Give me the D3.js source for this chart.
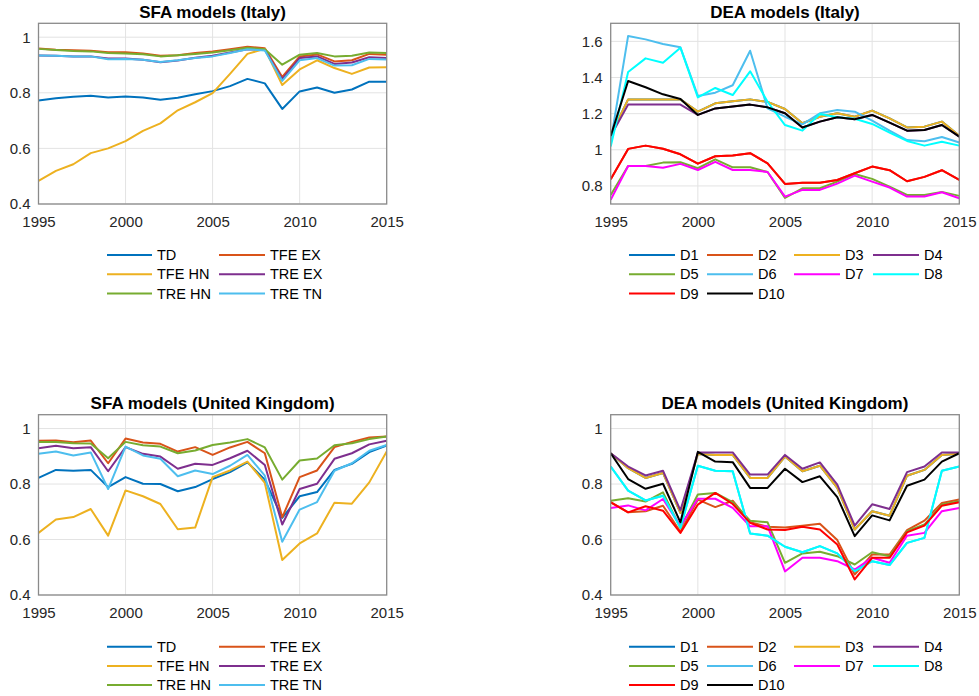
<!DOCTYPE html>
<html>
<head>
<meta charset="utf-8">
<script src="https://cdn.jsdelivr.net/npm/d3@7"></script>
<style>
  html, body { margin: 0; padding: 0; background: #fff; }
  svg { display: block; font-family: "Liberation Sans", Arial, Helvetica, sans-serif; }
</style>
</head>
<body>
<svg id="chart" width="979" height="696"></svg>
<script>
// ---- data -------------------------------------------------------------
const years = d3.range(1995, 2016);
const xTicks = [1995, 2000, 2005, 2010, 2015];

const sfaNames = ["TD", "TFE EX", "TFE HN", "TRE EX", "TRE HN", "TRE TN"];
const deaNames = ["D1", "D2", "D3", "D4", "D5", "D6", "D7", "D8", "D9", "D10"];

// SFA efficiency, Italy
const itTD    = [0.772,0.780,0.786,0.789,0.783,0.787,0.783,0.775,0.782,0.795,0.806,0.824,0.850,0.834,0.742,0.805,0.819,0.800,0.812,0.840,0.840];
const itTFEEX = [0.959,0.955,0.953,0.951,0.946,0.946,0.941,0.933,0.935,0.943,0.949,0.957,0.966,0.960,0.857,0.931,0.938,0.913,0.917,0.940,0.937];
const itTFEHN = [0.483,0.519,0.543,0.583,0.600,0.626,0.663,0.690,0.737,0.766,0.799,0.868,0.940,0.958,0.828,0.884,0.917,0.889,0.868,0.891,0.892];
const itTREEX = [0.934,0.933,0.931,0.931,0.923,0.923,0.919,0.910,0.916,0.926,0.933,0.945,0.957,0.955,0.849,0.925,0.931,0.904,0.909,0.928,0.925];
const itTREHN = [0.958,0.954,0.950,0.949,0.943,0.941,0.939,0.931,0.935,0.940,0.945,0.953,0.962,0.957,0.901,0.937,0.943,0.931,0.933,0.945,0.943];
const itTRETN = [0.934,0.933,0.931,0.931,0.921,0.922,0.919,0.911,0.917,0.925,0.931,0.943,0.957,0.952,0.843,0.917,0.925,0.898,0.899,0.922,0.920];

// SFA efficiency, United Kingdom
const ukTD    = [0.822,0.851,0.848,0.851,0.789,0.825,0.801,0.800,0.774,0.789,0.818,0.843,0.878,0.816,0.678,0.756,0.771,0.851,0.873,0.915,0.939];
const ukTFEEX = [0.956,0.957,0.951,0.957,0.875,0.964,0.950,0.945,0.917,0.933,0.905,0.932,0.952,0.911,0.680,0.825,0.849,0.933,0.952,0.968,0.971];
const ukTFEHN = [0.624,0.672,0.681,0.710,0.614,0.777,0.756,0.728,0.637,0.643,0.825,0.849,0.881,0.804,0.526,0.586,0.622,0.733,0.729,0.806,0.917];
const ukTREEX = [0.929,0.938,0.929,0.933,0.846,0.933,0.909,0.899,0.855,0.873,0.869,0.893,0.920,0.869,0.654,0.782,0.801,0.891,0.911,0.943,0.956];
const ukTREHN = [0.952,0.952,0.947,0.946,0.893,0.952,0.940,0.935,0.911,0.921,0.941,0.950,0.962,0.932,0.816,0.885,0.892,0.940,0.947,0.962,0.971];
const ukTRETN = [0.909,0.917,0.903,0.914,0.782,0.935,0.903,0.891,0.828,0.849,0.836,0.866,0.905,0.830,0.592,0.708,0.735,0.848,0.875,0.920,0.941];

// DEA efficiency, Italy
const itD1  = [1.080,1.279,1.279,1.279,1.279,1.211,1.257,1.268,1.279,1.265,1.226,1.147,1.183,1.202,1.183,1.217,1.174,1.124,1.128,1.156,1.078];
const itD2  = [0.837,1.005,1.023,1.006,0.975,0.923,0.964,0.968,0.981,0.925,0.811,0.817,0.817,0.833,0.870,0.907,0.887,0.826,0.850,0.887,0.833];
const itD3  = [1.080,1.279,1.279,1.279,1.279,1.211,1.257,1.268,1.279,1.265,1.226,1.147,1.183,1.202,1.183,1.217,1.174,1.124,1.128,1.156,1.078];
const itD4  = [1.076,1.250,1.250,1.250,1.250,1.193,1.229,1.240,1.250,1.235,1.202,1.123,1.156,1.180,1.169,1.193,1.150,1.106,1.110,1.137,1.073];
const itD5  = [0.750,0.910,0.910,0.929,0.931,0.898,0.947,0.903,0.903,0.877,0.734,0.787,0.787,0.824,0.866,0.839,0.796,0.750,0.750,0.767,0.745];
const itD6  = [1.046,1.630,1.611,1.585,1.567,1.298,1.316,1.357,1.548,1.229,1.183,1.141,1.202,1.220,1.211,1.161,1.106,1.054,1.047,1.071,1.040];
const itD7  = [0.723,0.910,0.910,0.901,0.922,0.888,0.933,0.888,0.888,0.877,0.741,0.778,0.778,0.813,0.857,0.824,0.791,0.741,0.741,0.765,0.732];
const itD8  = [1.018,1.430,1.506,1.482,1.565,1.290,1.342,1.303,1.434,1.266,1.137,1.106,1.198,1.180,1.172,1.143,1.095,1.049,1.023,1.045,1.023];
const itD9  = [0.837,1.005,1.023,1.006,0.975,0.923,0.964,0.968,0.981,0.925,0.811,0.817,0.817,0.833,0.870,0.907,0.887,0.826,0.850,0.887,0.833];
const itD10 = [1.076,1.381,1.346,1.307,1.281,1.193,1.229,1.240,1.250,1.235,1.202,1.123,1.156,1.180,1.169,1.193,1.150,1.106,1.110,1.137,1.073];

// DEA efficiency, United Kingdom
const ukD1  = [0.911,0.857,0.822,0.840,0.696,0.908,0.905,0.905,0.822,0.822,0.899,0.846,0.866,0.786,0.636,0.702,0.686,0.830,0.851,0.905,0.909];
const ukD2  = [0.735,0.698,0.702,0.722,0.628,0.744,0.717,0.740,0.662,0.646,0.643,0.650,0.657,0.598,0.474,0.546,0.546,0.634,0.668,0.732,0.744];
const ukD3  = [0.911,0.857,0.822,0.840,0.696,0.908,0.905,0.905,0.822,0.822,0.899,0.846,0.866,0.786,0.636,0.702,0.686,0.830,0.851,0.905,0.909];
const ukD4  = [0.911,0.863,0.831,0.848,0.705,0.914,0.914,0.914,0.834,0.834,0.905,0.855,0.878,0.798,0.650,0.727,0.710,0.843,0.863,0.914,0.914];
const ukD5  = [0.740,0.749,0.737,0.770,0.642,0.762,0.768,0.735,0.668,0.662,0.516,0.550,0.556,0.540,0.510,0.554,0.540,0.630,0.654,0.726,0.738];
const ukD6  = [0.863,0.776,0.741,0.758,0.645,0.866,0.848,0.846,0.622,0.614,0.574,0.554,0.576,0.550,0.486,0.522,0.508,0.588,0.606,0.848,0.863];
const ukD7  = [0.714,0.723,0.705,0.746,0.648,0.747,0.747,0.714,0.648,0.648,0.485,0.534,0.534,0.522,0.492,0.534,0.516,0.614,0.624,0.702,0.714];
const ukD8  = [0.863,0.776,0.741,0.758,0.642,0.866,0.848,0.846,0.622,0.614,0.574,0.554,0.576,0.550,0.486,0.522,0.508,0.588,0.606,0.848,0.863];
const ukD9  = [0.734,0.698,0.720,0.704,0.624,0.726,0.768,0.728,0.660,0.636,0.634,0.646,0.636,0.582,0.456,0.534,0.534,0.626,0.650,0.722,0.734];
const ukD10 = [0.911,0.818,0.783,0.801,0.662,0.916,0.881,0.879,0.786,0.786,0.855,0.807,0.828,0.753,0.612,0.687,0.669,0.794,0.816,0.881,0.911];

const sfaColors = ["#0072BD", "#D95319", "#EDB120", "#7E2F8E", "#77AC30", "#4DBEEE"];
const deaColors = ["#0072BD", "#D95319", "#EDB120", "#7E2F8E", "#77AC30", "#4DBEEE",
                   "#FF00FF", "#00FFFF", "#FF0000", "#000000"];

// ---- panels -----------------------------------------------------------
const panels = [
  { title: "SFA models (Italy)", x0: 38.5, x1: 386.7, y0: 23.3, y1: 204,
    domain: [0.4, 1.05], yTicks: [0.4, 0.6, 0.8, 1],
    names: sfaNames, colors: sfaColors,
    series: [itTD, itTFEEX, itTFEHN, itTREEX, itTREHN, itTRETN],
    legCols: 2, legLine: [[107, 152], [219, 265]], legRow0: 255 },
  { title: "DEA models (Italy)", x0: 610.7, x1: 959.3, y0: 23.3, y1: 204,
    domain: [0.7, 1.7], yTicks: [0.8, 1, 1.2, 1.4, 1.6],
    names: deaNames, colors: deaColors,
    series: [itD1, itD2, itD3, itD4, itD5, itD6, itD7, itD8, itD9, itD10],
    legCols: 4, legLine: [[629, 675], [707, 753], [794, 840], [873, 919]], legRow0: 255 },
  { title: "SFA models (United Kingdom)", x0: 38.5, x1: 386.7, y0: 414.7, y1: 595,
    domain: [0.4, 1.05], yTicks: [0.4, 0.6, 0.8, 1],
    names: sfaNames, colors: sfaColors,
    series: [ukTD, ukTFEEX, ukTFEHN, ukTREEX, ukTREHN, ukTRETN],
    legCols: 2, legLine: [[107, 152], [219, 265]], legRow0: 646.7 },
  { title: "DEA models (United Kingdom)", x0: 610.7, x1: 959.3, y0: 414.7, y1: 595,
    domain: [0.4, 1.05], yTicks: [0.4, 0.6, 0.8, 1],
    names: deaNames, colors: deaColors,
    series: [ukD1, ukD2, ukD3, ukD4, ukD5, ukD6, ukD7, ukD8, ukD9, ukD10],
    legCols: 4, legLine: [[629, 675], [707, 753], [794, 840], [873, 919]], legRow0: 646.7 }
];

const svg = d3.select("#chart");
const rowStep = 19.2;
const fmt = v => d3.format("~g")(v);

panels.forEach((p, pi) => {
  const g = svg.append("g");
  const x = d3.scaleLinear().domain([1995, 2015]).range([p.x0, p.x1]);
  const y = d3.scaleLinear().domain(p.domain).range([p.y1, p.y0]);

  // clip so lines stay inside the axes box
  const clipId = "clip" + pi;
  g.append("clipPath").attr("id", clipId).append("rect")
    .attr("x", p.x0).attr("y", p.y0).attr("width", p.x1 - p.x0).attr("height", p.y1 - p.y0);

  // grid
  g.append("g").selectAll("line.vg").data(xTicks.slice(1, -1)).join("line")
    .attr("x1", d => x(d)).attr("x2", d => x(d)).attr("y1", p.y0).attr("y2", p.y1)
    .attr("stroke", "#e3e3e3").attr("stroke-width", 1);
  g.append("g").selectAll("line.hg").data(p.yTicks).join("line")
    .attr("x1", p.x0).attr("x2", p.x1).attr("y1", d => y(d)).attr("y2", d => y(d))
    .attr("stroke", "#e3e3e3").attr("stroke-width", 1);

  // series
  const line = d3.line().x((d, i) => x(years[i])).y(d => y(d));
  g.append("g").attr("clip-path", `url(#${clipId})`)
    .selectAll("path").data(p.series).join("path")
    .attr("d", d => line(d)).attr("fill", "none")
    .attr("stroke", (d, i) => p.colors[i]).attr("stroke-width", 2)
    .attr("stroke-linejoin", "round");

  // axes box
  g.append("rect").attr("x", p.x0).attr("y", p.y0)
    .attr("width", p.x1 - p.x0).attr("height", p.y1 - p.y0)
    .attr("fill", "none").attr("stroke", "#8a8a8a").attr("stroke-width", 1.3);

  // tick labels
  const yAxis = d3.axisLeft(y).tickValues(p.yTicks).tickFormat(fmt).tickSize(0).tickPadding(8);
  const ya = g.append("g").attr("transform", `translate(${p.x0},0)`).call(yAxis);
  ya.select(".domain").remove();
  ya.selectAll("text").attr("font-size", 15).attr("fill", "#262626")
    .attr("font-family", "Liberation Sans, Arial, sans-serif");

  const xAxis = d3.axisBottom(x).tickValues(xTicks).tickFormat(d3.format("d")).tickSize(0).tickPadding(12);
  const xa = g.append("g").attr("transform", `translate(0,${p.y1})`).call(xAxis);
  xa.select(".domain").remove();
  xa.selectAll("text").attr("font-size", 15).attr("fill", "#262626")
    .attr("font-family", "Liberation Sans, Arial, sans-serif");

  // title
  g.append("text").attr("x", (p.x0 + p.x1) / 2).attr("y", p.y0 - 5.5)
    .attr("text-anchor", "middle").attr("font-size", 17).attr("font-weight", "bold")
    .attr("fill", "#000").text(p.title);

  // legend
  const leg = g.append("g");
  p.names.forEach((name, i) => {
    const col = i % p.legCols, row = Math.floor(i / p.legCols);
    const ly = p.legRow0 + row * rowStep;
    const [lx1, lx2] = p.legLine[col];
    leg.append("line").attr("x1", lx1).attr("x2", lx2).attr("y1", ly).attr("y2", ly)
      .attr("stroke", p.colors[i]).attr("stroke-width", 2);
    leg.append("text").attr("x", lx2 + 5).attr("y", ly).attr("dy", "0.36em")
      .attr("font-size", 14.5).attr("fill", "#000").text(name);
  });
});
</script>
</body>
</html>
